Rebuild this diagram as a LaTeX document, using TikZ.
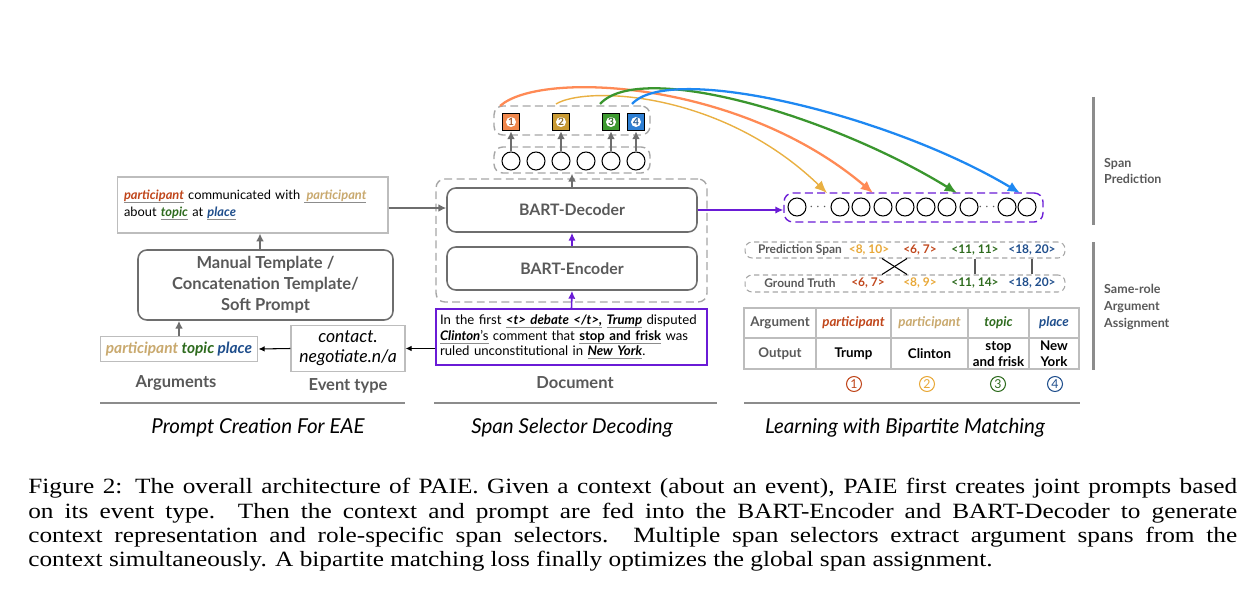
\documentclass[tikz,border=0pt]{standalone}
\usepackage{fontspec}
\setmainfont{Lato}
\newfontfamily\capfont[FakeStretch=1.16]{Liberation Serif}
\usetikzlibrary{arrows.meta}
\usetikzlibrary{calc}

\definecolor{txtgray}{HTML}{595959}
\definecolor{boxgray}{HTML}{6E6E6E}
\definecolor{thingray}{HTML}{BDBDBD}
\definecolor{dashgray}{HTML}{A6A6A6}
\definecolor{rulegray}{HTML}{8C8C8C}
\definecolor{rolered}{HTML}{C0461B}
\definecolor{roletan}{HTML}{C9A96E}
\definecolor{rolegreen}{HTML}{2E6B1E}
\definecolor{roleblue}{HTML}{1F4E8C}
\definecolor{spangold}{HTML}{E8A838}
\definecolor{selorange}{HTML}{F0874C}
\definecolor{selgold}{HTML}{C99A33}
\definecolor{selgreen}{HTML}{3D9A2F}
\definecolor{selblue}{HTML}{2E7FD3}
\definecolor{curveorange}{HTML}{FF8A55}
\definecolor{curvegold}{HTML}{E9B042}
\definecolor{curvegreen}{HTML}{3A962E}
\definecolor{curveblue}{HTML}{1E88F2}
\definecolor{docviolet}{HTML}{6A1BD6}

\newlength{\ulwd}
\newcommand{\uw}[1]{\leavevmode\settowidth{\ulwd}{#1}\rlap{\textcolor{rulegray}{\rule[-2pt]{\ulwd}{0.6pt}}}#1}
\newcommand{\role}[2]{\textcolor{#1}{\textbf{\textit{#2}}}}

\begin{document}
\begin{tikzpicture}[x=0.02cm, y=-0.02cm,
  plainbox/.style={draw=thingray, line width=0.6pt, fill=white},
  modelbox/.style={draw=boxgray, line width=0.9pt, rounded corners=5pt, minimum width=50mm,
    text=txtgray, font=\bfseries\fontsize{9}{11.9}\selectfont},
  dashbox/.style={draw=dashgray, line width=0.8pt, dash pattern=on 4.5pt off 2.5pt, rounded corners=5pt},
  tagtext/.style={text=txtgray, font=\bfseries\fontsize{9.4}{11}\selectfont},
  paneltitle/.style={text=black, font=\itshape\fontsize{11.7}{14}\selectfont},
  garrow/.style={draw=boxgray, line width=1.1pt, -{Latex[length=4.5pt,width=4.5pt]}},
  barrow/.style={draw=black, line width=0.6pt, -{Latex[length=3.5pt,width=3.2pt]}},
  parrow/.style={draw=docviolet, line width=0.9pt, -{Latex[length=4.5pt,width=4.2pt]}},
  state/.style={circle, draw=black, line width=0.6pt, minimum size=3.6mm, inner sep=0pt},
  selsq/.style={draw=black, line width=0.6pt, minimum size=3.5mm, inner sep=0pt},
  spantext/.style={font=\bfseries\fontsize{6.8}{8}\selectfont, inner sep=1pt},
  cell/.style={font=\bfseries\fontsize{7.6}{9}\selectfont, align=center, inner sep=1pt},
  curve/.style={line width=1.3pt, -{Latex[length=7pt,width=6pt]}},
  sepline/.style={draw=rulegray, line width=1.7pt}]

  \useasboundingbox (0,0) rectangle (1250,598);

  % Prompt creation
  \node[plainbox, minimum width=54.2mm, minimum height=11.2mm, text width=51.4mm, inner xsep=1.4mm,
    align=left, font=\fontsize{7.3}{9.6}\selectfont, text=black] (tmpl) at (252.5,205)
    {\uw{\role{rolered}{participant}} communicated with \uw{\,\role{roletan}{participant}}\\
     about \uw{\role{rolegreen}{topic}} at \uw{\role{roleblue}{place}}};
  \node[modelbox, minimum width=51mm, minimum height=14mm, align=center,
    font=\bfseries\fontsize{9.4}{11.9}\selectfont] (manual) at (265.5,285)
    {Manual Template /\\Concatenation Template/\\Soft Prompt};
  \node[plainbox, minimum width=31.2mm, minimum height=4.8mm,
    font=\bfseries\itshape\fontsize{8.8}{10}\selectfont] (args) at (179,349)
    {\textcolor{roletan}{participant} \textcolor{rolegreen}{topic} \textcolor{roleblue}{place}};
  \node[plainbox, minimum width=22.8mm, minimum height=8.6mm, align=center,
    font=\itshape\fontsize{10}{11.5}\selectfont, text=black] (evt) at (348,348.5)
    {contact.\\negotiate.n/a};

  \node[tagtext] (argslbl) at (176,383) {Arguments};
  \node[tagtext] (evtlbl) at (348,386) {Event type};
  \draw[sepline] (100,403) -- (405,403);
  \node[paneltitle] (title1) at (258,428) {Prompt Creation For EAE};

  % Span selector decoding
  \node[dashbox, minimum width=54.2mm, minimum height=24.6mm] (bart) at (571.5,240.5) {};
  \node[modelbox, minimum height=8.8mm] (dec) at (572,210) {BART-Decoder};
  \node[modelbox, minimum height=8.6mm] (enc) at (572,268.5) {BART-Encoder};

  \node[dashbox, minimum width=31.2mm, minimum height=5.2mm] (hbox) at (572,160) {};
  \foreach \i/\x in {1/511,2/536,3/561,4/586,5/611,6/636}
    \node[state] (h\i) at (\x,161) {};

  \node[dashbox, minimum width=31.2mm, minimum height=5.8mm] (selbox) at (572,120.5) {};
  \foreach \i/\x/\c in {1/511/selorange,2/561/selgold,3/611/selgreen,4/636/selblue} {
    \node[selsq, fill=\c] (s\i) at (\x,122) {};
    \node[circle, fill=white, minimum size=2mm, inner sep=0pt, text=\c!70!black,
      font=\bfseries\fontsize{5.8}{6}\selectfont] (s\i n) at (s\i) {\i};
  }
  \foreach \i/\h in {1/1,2/3,3/5,4/6}
    \draw[garrow] (h\h) -- (s\i);

  \node[draw=docviolet, line width=0.8pt, fill=white, minimum width=54.2mm, minimum height=10.8mm,
    text width=52.6mm, inner xsep=0.8mm, align=left, font=\fontsize{7.5}{8.8}\selectfont,
    text=black] (doc) at (571.5,337)
    {In the first \uw{\textbf{\textit{<t> debate </t>,}}} \uw{\textbf{\textit{Trump}}} disputed\\
     \uw{\textbf{\textit{Clinton}}'s} comment that \uw{\textbf{stop and frisk}} was\\
     ruled unconstitutional in \uw{\textbf{\textit{New York}}}.};

  \draw[parrow] (doc.north) -- (enc.south);
  \draw[parrow] (enc.north) -- (dec.south);
  \draw[garrow] (dec.north) -- (hbox.south);
  \coordinate (tmplout) at ($(tmpl.east)+(0,3)$);
  \draw[garrow] (tmplout) -- (tmplout -| dec.west);
  \draw[barrow] (doc.west |- evt.east) -- (evt.east);
  \draw[barrow] (evt.west) -- (args.east);
  \draw[garrow] (args.north) -- (args.north |- manual.south);
  \coordinate (manin) at ($(manual.north)+(-5.5,0)$);
  \draw[garrow] (manin) -- (manin |- tmpl.south);

  \node[tagtext] (doclbl) at (575,383) {Document};
  \draw[sepline] (434,403) -- (717,403);
  \node[paneltitle] (title2) at (572,428) {Span Selector Decoding};

  % Span prediction
  \node[dashbox, draw=docviolet, minimum width=51.8mm, minimum height=5.8mm] (outbox) at (913.5,207.5) {};
  \draw[parrow] (dec.east) -- (dec.east -| outbox.west);
  \foreach \i/\x in {1/797,2/840,3/861,4/883,5/905,6/926,7/947,8/969,9/1007,10/1027}
    \node[state] (o\i) at (\x,207) {};
  \node[text=txtgray, inner sep=0pt] (dots1) at (818,207.5) {\footnotesize$\cdots$};
  \node[text=txtgray, inner sep=0pt] (dots2) at (987,207.5) {\footnotesize$\cdots$};

  \coordinate (st1) at (500,106);
  \coordinate (st2) at (556,104);
  \coordinate (st3) at (600,104);
  \coordinate (st4) at (632,104);
  \coordinate (en1) at (873,193);
  \coordinate (en2) at (827,193);
  \coordinate (en3) at (957,193);
  \coordinate (en4) at (1020,193);
  \draw[curve, curvegold, line width=0.8pt] (st2) .. controls (585,86) and (720,90) .. (en2);
  \draw[curve, curveorange] (st1) .. controls (540,70) and (740,80) .. (en1);
  \draw[curve, curvegreen] (st3) .. controls (640,60) and (830,115) .. (en3);
  \draw[curve, curveblue] (st4) .. controls (670,62) and (890,115) .. (en4);

  % Same-role argument assignment
  \node[dashbox, line width=0.6pt, dash pattern=on 3pt off 2pt, rounded corners=4pt,
    minimum width=64mm, minimum height=3.2mm] (predbox) at (905,250) {};
  \node[dashbox, line width=0.6pt, dash pattern=on 3pt off 2pt, rounded corners=4pt,
    minimum width=64mm, minimum height=3.4mm] (gtbox) at (905,283.5) {};
  \node[spantext, text=txtgray] (predlbl) at (800,250) {Prediction Span};
  \node[spantext, text=txtgray] (gtlbl) at (800,283) {Ground Truth};
  \foreach \i/\x/\c/\t in {1/869/spangold/{<8, 10>},2/920/rolered/{<6, 7>},
                          3/975/rolegreen/{<11, 11>},4/1032/roleblue/{<18, 20>}}
    \node[spantext, text=\c] (p\i) at (\x,250) {\t};
  \foreach \i/\x/\c/\t in {1/868/rolered/{<6, 7>},2/920/spangold/{<8, 9>},
                          3/975/rolegreen/{<11, 14>},4/1032/roleblue/{<18, 20>}}
    \node[spantext, text=\c] (g\i) at (\x,283) {\t};

  \draw[line width=0.6pt] ($(p1 |- predbox.south)+(13,0)$) -- ($(g2 |- gtbox.north)+(-13,0)$);
  \draw[line width=0.6pt] ($(p2 |- predbox.south)+(-13,0)$) -- ($(g1 |- gtbox.north)+(14,0)$);
  \draw[line width=0.7pt, draw=txtgray] (p3 |- predbox.south) -- (g3 |- gtbox.north);
  \draw[line width=0.7pt, draw=txtgray] (p4 |- predbox.south) -- (g4 |- gtbox.north);

  % Table
  \draw[draw=thingray, line width=0.7pt] (744,308) rectangle (1079,369);
  \draw[draw=thingray, line width=0.7pt] (744,338) -- (1079,338);
  \foreach \x in {816,891,968,1029}
    \draw[draw=thingray, line width=0.7pt] (\x,308) -- (\x,369);

  \node[cell, text=txtgray] (arghead) at (780,323) {Argument};
  \node[cell] (arg1) at (853.5,323) {\role{rolered}{participant}};
  \node[cell] (arg2) at (929.5,323) {\role{roletan}{participant}};
  \node[cell] (arg3) at (998.5,323) {\role{rolegreen}{topic}};
  \node[cell] (arg4) at (1054,323) {\role{roleblue}{place}};
  \node[cell, text=txtgray] (outhead) at (780,354) {Output};
  \node[cell, text=black] (out1) at (853.5,354) {Trump};
  \node[cell, text=black] (out2) at (929.5,354) {Clinton};
  \node[cell, text=black] (out3) at (998.5,354) {stop\\and frisk};
  \node[cell, text=black] (out4) at (1054,354) {New\\York};

  \foreach \i/\x/\c in {1/854/rolered,2/927/spangold,3/998/rolegreen,4/1055/roleblue}
    \node[circle, draw=\c, text=\c, line width=0.6pt, minimum size=3mm, inner sep=0pt,
      font=\fontsize{7}{7}\selectfont] (num\i) at (\x,384) {\i};

  \draw[sepline] (744,403) -- (1080,403);
  \node[paneltitle] (title3) at (905,428) {Learning with Bipartite Matching};

  % Side labels
  \draw[sepline] (1093,97) -- (1093,225);
  \draw[sepline] (1093,242) -- (1093,370);
  \node[anchor=west, align=left, text=txtgray, font=\bfseries\fontsize{7.1}{9}\selectfont] (spanlbl)
    at (1098,171) {Span\\Prediction};
  \node[anchor=west, align=left, text=txtgray, font=\bfseries\fontsize{7.1}{9.6}\selectfont] (rolelbl)
    at (1098,307) {Same-role\\Argument\\Assignment};

  % Caption
  \node[anchor=north west, inner sep=0pt, text width=241.8mm, align=justify, text=black,
    font=\capfont\fontsize{12.4}{13.9}\selectfont] (caption) at (28,478)
    {Figure 2: The overall architecture of PAIE. Given a context (about an event), PAIE first creates joint prompts based\linebreak
     on its event type.  Then the context and prompt are fed into the BART-Encoder and BART-Decoder to generate\linebreak
     context representation and role-specific span selectors.  Multiple span selectors extract argument spans from the\linebreak
     context simultaneously. A bipartite matching loss finally optimizes the global span assignment.};

\end{tikzpicture}
\end{document}
